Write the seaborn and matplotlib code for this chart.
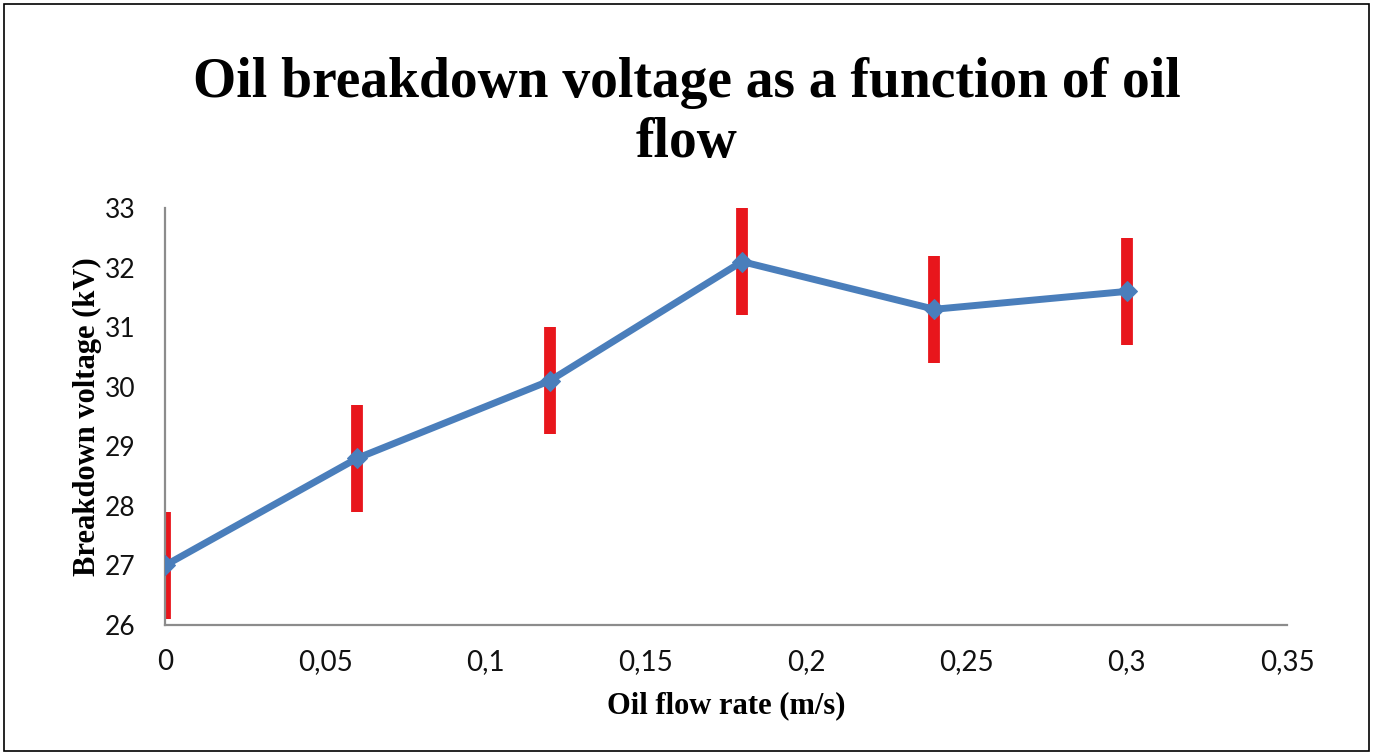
import matplotlib
matplotlib.use("Agg")
import matplotlib.pyplot as plt
from matplotlib.ticker import FuncFormatter
from matplotlib.patches import Rectangle
import seaborn as sns
import pandas as pd

# datos
flujo = [0, 0.06, 0.12, 0.18, 0.24, 0.3]
voltaje = [27.0, 28.8, 30.1, 32.1, 31.3, 31.6]
error = [0.9, 0.9, 0.9, 0.9, 0.9, 0.9]

titulo = 'Oil breakdown voltage as a function of oil\nflow'
xlab = 'Oil flow rate (m/s)'
ylab = 'Breakdown voltage (kV)'

df = pd.DataFrame({'flujo': flujo, 'voltaje': voltaje, 'error': error})

sns.set_style("white")
plt.rcParams['font.family'] = ['Lato', 'DejaVu Sans']

azul = '#4a7ebb'
rojo = '#e8161c'
gris = '#8c8c8c'

fig = plt.figure(figsize=(13.73, 7.55), dpi=100)
ax = fig.add_axes([0.1202, 0.1722, 0.8172, 0.5523])

ax.errorbar(df.flujo, df.voltaje, yerr=df.error, fmt='none',
            ecolor=rojo, elinewidth=8.5, capsize=0, zorder=1)
sns.lineplot(data=df, x='flujo', y='voltaje', ax=ax, color=azul,
             linewidth=5, marker='D', markersize=10.5,
             markeredgecolor=azul, zorder=3)

ax.set_xlim(0, 0.35)
ax.set_ylim(26, 33)
ax.set_xticks([0, 0.05, 0.1, 0.15, 0.2, 0.25, 0.3, 0.35])
ax.set_yticks(range(26, 34))
coma = FuncFormatter(lambda v, p: f'{v:g}'.replace('.', ','))
ax.xaxis.set_major_formatter(coma)
ax.yaxis.set_major_formatter(coma)

for s in ['top', 'right']:
    ax.spines[s].set_visible(False)
for s in ['left', 'bottom']:
    ax.spines[s].set_color(gris)
    ax.spines[s].set_linewidth(1.6)
ax.tick_params(axis='both', direction='out', width=1.6, color=gris,
               labelcolor='#111111')
ax.tick_params(axis='x', length=6, labelsize=20, pad=11)
ax.tick_params(axis='y', length=8, labelsize=19, pad=13)

ax.set_xlabel(xlab, family='Liberation Serif', fontweight='bold',
              fontsize=22, labelpad=12, color='black')
ax.set_ylabel(ylab, family='Liberation Serif', fontweight='bold',
              fontsize=22, labelpad=2, color='black')

fig.text(0.5, 0.925, titulo, ha='center', va='top', family='Liberation Serif',
         fontweight='bold', fontsize=40, linespacing=1.22, color='black')

fig.patches.append(Rectangle((0.003, 0.005), 0.994, 0.99,
                             transform=fig.transFigure, fill=False,
                             edgecolor='black', linewidth=1.2))

fig.savefig('out.png', dpi=100)
